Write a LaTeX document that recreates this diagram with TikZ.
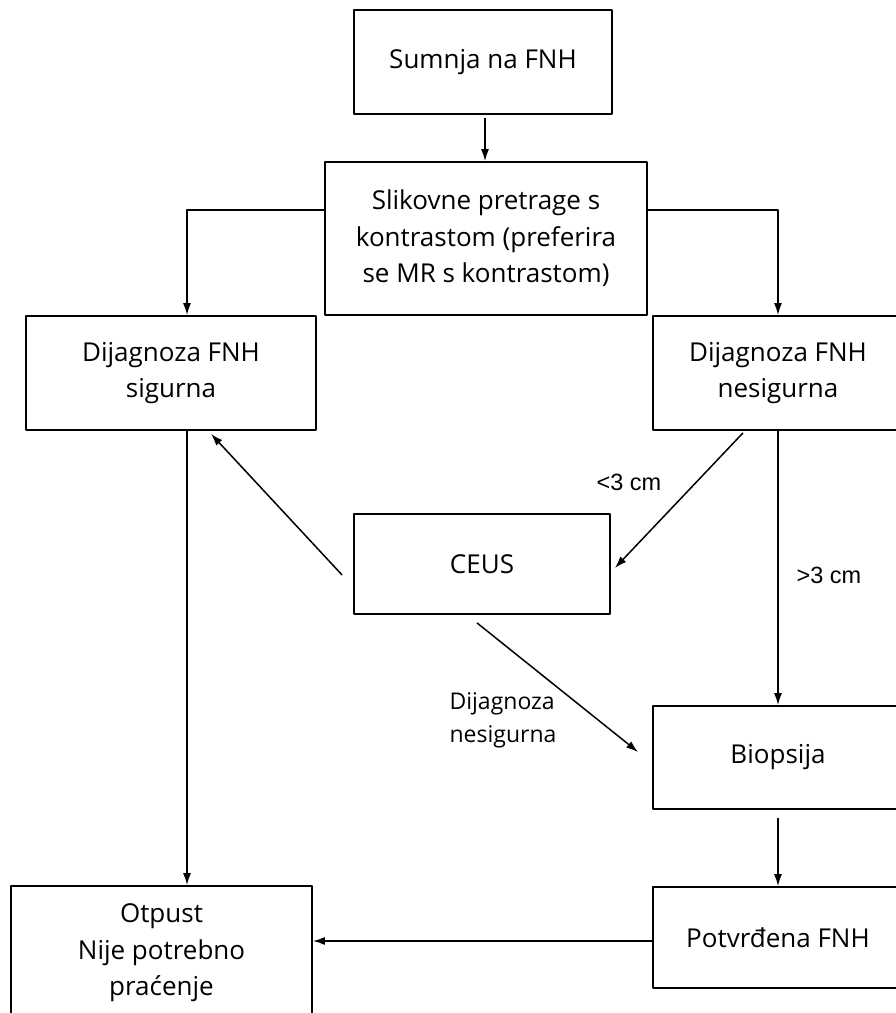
\documentclass[tikz,border=0pt]{standalone}
\usepackage{fontspec}
\setmainfont{Open Sans}
\newfontfamily\arialfont{Liberation Sans}
\usetikzlibrary{arrows.meta}

\begin{document}
\begin{tikzpicture}[x=1pt, y=-1pt, >={Latex[length=12pt,width=8pt]}, line join=round,
    box/.style={draw, line width=1.8pt, rectangle, inner sep=0pt, align=center, font=\fontsize{26}{36.6}\selectfont},
    link/.style={->, line width=1.5pt},
    lbl/.style={font=\arialfont\fontsize{23.5}{28}\selectfont}]
    \useasboundingbox (0,0) rectangle (896,1013);
    \clip (0,0) rectangle (896,1013);
    \fill[white] (0,0) rectangle (896,1013);

    % kutije
    \node[box, minimum width=258pt, minimum height=104pt] (sumnja) at (483,62) {Sumnja na FNH};
    \node[box, minimum width=322pt, minimum height=153pt] (slik) at (486,238.5) {Slikovne pretrage s\\kontrastom (preferira\\se MR s kontrastom)};
    \node[box, minimum width=290pt, minimum height=114pt] (sig) at (171,373) {Dijagnoza FNH\\sigurna};
    \node[box, minimum width=250pt, minimum height=114pt] (nes) at (778,373) {Dijagnoza FNH\\nesigurna};
    \node[box, minimum width=256pt, minimum height=100pt] (ceus) at (482,564) {CEUS};
    \node[box, minimum width=250pt, minimum height=103pt] (biop) at (778,757.5) {Biopsija};
    \node[box, minimum width=250pt, minimum height=101pt] (potv) at (778,937.5) {Potvrđena FNH};
    \node[box, minimum width=301pt, minimum height=134pt] (otp) at (161.5,953) {Otpust\\Nije potrebno\\praćenje};

    % strelice
    \draw[link] ([xshift=2pt,yshift=-3pt]sumnja.south) -- ([xshift=2pt]sumnja.south |- slik.north);
    \draw[link] ([yshift=28.5pt]slik.west) -| ([xshift=16pt]sig.north);
    \draw[link] ([yshift=28.5pt]slik.east) -| (nes.north);
    \draw[link] ([xshift=16pt]sig.south) -- ([xshift=16pt]sig.south |- otp.north);
    \draw[link] ([xshift=-11pt,yshift=-11pt]ceus.west) -- ([xshift=40pt,yshift=-3pt]sig.south);
    \draw[link] ([xshift=-35pt,yshift=-2pt]nes.south) -- ([xshift=4pt,yshift=-4pt]ceus.east);
    \draw[link] ([xshift=-5pt,yshift=-8pt]ceus.south) -- ([xshift=-14pt,yshift=5.5pt]biop.west);
    \draw[link] (nes.south) -- (biop.north);
    \draw[link] ([yshift=-8pt]biop.south) -- (potv.north);
    \draw[link] ([yshift=-3.5pt]potv.west) -- ([yshift=-3.5pt]potv.west -| otp.east);

    % oznake
    \node[lbl] (manje) at (629,482) {<3 cm};
    \node[lbl] (vece) at (829,575) {>3 cm};
    \node[font=\fontsize{23}{33}\selectfont, align=left] (nesig) at (503,720) {Dijagnoza\\nesigurna};
\end{tikzpicture}
\end{document}
